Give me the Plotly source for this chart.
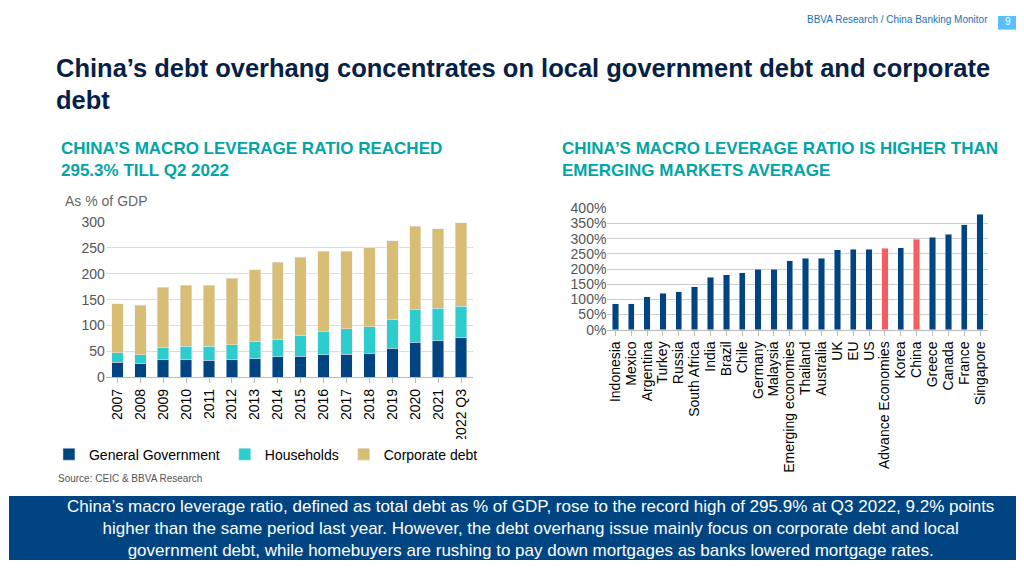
import plotly.graph_objects as go

years = ["2007","2008","2009","2010","2011","2012","2013","2014","2015","2016","2017","2018","2019","2020","2021","2022 Q3"]
gov = [29,26,34,34,33,34,36,40,41,44,45,47,56,68,71,76]
hh_top = [48,44,58,60,60,63,70,74,80,88,94,98,112,131,133,137]
total = [142,139,174,178,178,191,208,222,232,243,243,250,264,292,287,298]
households = [h - g for h, g in zip(hh_top, gov)]
corporate = [t - h for t, h in zip(total, hh_top)]

countries = ["Indonesia","Mexico","Argentina","Turkey","Russia","South Africa","India","Brazil","Chile","Germany","Malaysia","Emerging economies","Thailand","Australia","UK","EU","US","Advance Economies","Korea","China","Greece","Canada","France","Singapore"]
leverage = [86,86,108,120,125,142,173,182,188,200,200,227,236,236,263,266,266,268,270,299,304,314,346,380]
highlight = ["Advance Economies","China"]

fig = go.Figure()
fig.add_bar(x=years, y=gov, name="General Government", marker_color="#004481", xaxis="x", yaxis="y", width=0.5)
fig.add_bar(x=years, y=households, name="Households", marker_color="#2DCCCD", xaxis="x", yaxis="y", width=0.5)
fig.add_bar(x=years, y=corporate, name="Corporate debt", marker_color="#D8BE75", xaxis="x", yaxis="y", width=0.5)
fig.add_bar(x=countries, y=leverage, showlegend=False, xaxis="x2", yaxis="y2", width=0.4,
            marker_color=["#F35E61" if c in highlight else "#004481" for c in countries])

W, H = 1008, 560
def px(x): return (x - 8) / W
def py(y): return 1 - (y - 8) / H

fig.update_layout(
    width=W, height=H, barmode="stack", margin=dict(l=0, r=0, t=0, b=0),
    paper_bgcolor="white", plot_bgcolor="white",
    font=dict(family="Liberation Sans, Arial", color="#333"),
    xaxis=dict(domain=[px(105), px(472)], anchor="y", tickangle=-90, tickfont=dict(size=14, color="#000"),
               showline=True, linecolor="#bbb", ticks="outside", tickcolor="#bbb", dtick=1),
    yaxis=dict(domain=[py(380), py(220)], range=[0, 300], dtick=50, gridcolor="#ddd",
               tickfont=dict(size=14, color="#555"), anchor="x"),
    xaxis2=dict(domain=[px(607), px(988)], anchor="y2", tickangle=-90, tickfont=dict(size=14, color="#000"),
                showline=True, linecolor="#bbb", ticks="outside", tickcolor="#bbb", tickmode="linear", dtick=1),
    yaxis2=dict(domain=[py(331), py(206)], range=[0, 400], dtick=50, gridcolor="#ccc", ticksuffix="%",
                tickfont=dict(size=14, color="#555"), anchor="x2"),
    legend=dict(orientation="h", x=px(48), y=py(443), xanchor="left", yanchor="top",
                font=dict(size=14, color="#000"), traceorder="normal", itemwidth=30),
    bargap=0.5,
)

shapes = [dict(type="rect", xref="paper", yref="paper", x0=0, x1=1, y0=0, y1=py(502),
               fillcolor="#004481", line_width=0, layer="below"),
          dict(type="rect", xref="paper", yref="paper", x0=px(998), x1=1, y0=py(22), y1=1,
               fillcolor="#5BBEFF", line_width=0)]
fig.update_layout(shapes=shapes)

ann = [
    dict(x=px(990), y=py(12), text="BBVA Research / China Banking Monitor", font=dict(size=10, color="#1973B8"), xanchor="right"),
    dict(x=px(1008), y=py(14), text="9", font=dict(size=10, color="white"), xanchor="center"),
    dict(x=px(53), y=py(62), text="<b>China’s debt overhang concentrates on local government debt and corporate</b>", font=dict(size=25.5, color="#072146"), xanchor="left"),
    dict(x=px(53), y=py(94), text="<b>debt</b>", font=dict(size=25.5, color="#072146"), xanchor="left"),
    dict(x=px(58), y=py(156), text="<b>CHINA’S MACRO LEVERAGE RATIO REACHED<br>295.3% TILL Q2 2022</b>", font=dict(size=17, color="#02A5A5"), xanchor="left", align="left"),
    dict(x=px(560), y=py(156), text="<b>CHINA’S MACRO LEVERAGE RATIO IS HIGHER THAN<br>EMERGING MARKETS AVERAGE</b>", font=dict(size=17, color="#02A5A5"), xanchor="left", align="left"),
    dict(x=px(62), y=py(198), text="As % of GDP", font=dict(size=14, color="#666"), xanchor="left"),
    dict(x=px(55), y=py(484), text="Source: CEIC & BBVA Research", font=dict(size=10, color="#555"), xanchor="left"),
    dict(x=px(530), y=py(536), text="China’s macro leverage ratio, defined as total debt as % of GDP, rose to the record high of 295.9% at Q3 2022, 9.2% points<br>higher than the same period last year. However, the debt overhang issue mainly focus on corporate debt and local<br>government debt, while homebuyers are rushing to pay down mortgages as banks lowered mortgage rates.",
         font=dict(size=17, color="white"), xanchor="center", align="center"),
]
for a in ann:
    a.update(xref="paper", yref="paper", showarrow=False)
    a.setdefault("yanchor", "middle")
fig.update_layout(annotations=ann)
fig.write_html("out.html")
